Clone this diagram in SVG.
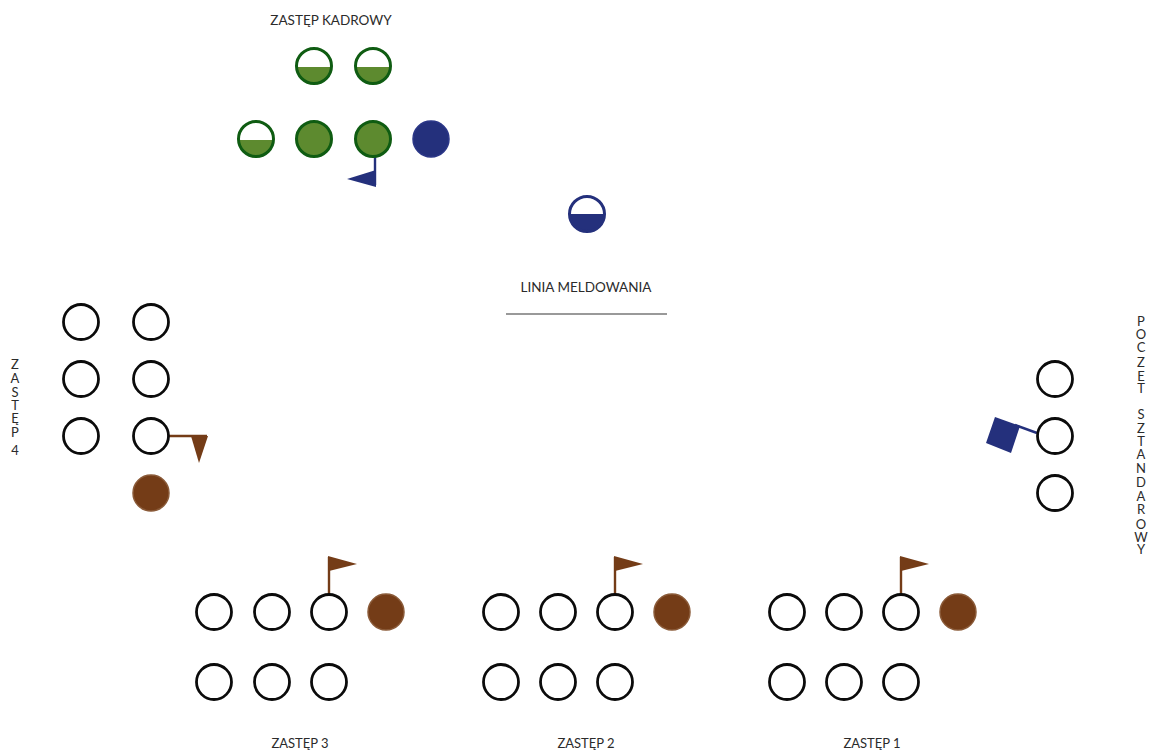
<svg xmlns="http://www.w3.org/2000/svg" width="1149" height="751" viewBox="0 0 1149 751">
<style>
text{font-family:Lato,"Noto Sans",sans-serif;font-size:13.5px;fill:#2b2b2b;text-anchor:middle}
.s{font-size:13px}
.w{fill:#fff;stroke:#0b0b0b;stroke-width:2.8}
.b{fill:#743c17;stroke:#8a5a38;stroke-width:1.5}
.g{fill:#5d8a2f;stroke:#0f5c12;stroke-width:3}
.n{fill:#24307c;stroke:#2b3788;stroke-width:1.5}
.hg{fill:#5d8a2f}
.hn{fill:#24307c}
.r0{fill:none;stroke-width:3}
.gs{stroke:#0f5c12}
.ns{stroke:#24307c}
.bl{stroke:#743c17;stroke-width:2.4;fill:none}
.nl{stroke:#24307c;stroke-width:2.4;fill:none}
</style>
<defs>
<circle id="w" class="w" r="17.5"/>
<circle id="bf" class="b" r="18"/>
<g id="hg"><circle r="17.5" fill="#fff"/><path class="hg" d="M-17.5 1H17.5A17.5 17.5 0 0 1-17.5 1Z"/><circle class="r0 gs" r="17.5"/></g>
</defs>
<g id="labels">
<text x="331" y="25">ZASTĘP KADROWY</text>
<text x="586" y="292">LINIA MELDOWANIA</text>
<text class="s" x="300" y="748">ZASTĘP 3</text>
<text class="s" x="586" y="748">ZASTĘP 2</text>
<text class="s" x="872" y="748">ZASTĘP 1</text>
<text class="s" x="15 15 15 15 15 15 15 15" y="369 383 397 410 423 437 441 455">ZASTĘP 4</text>
<text class="s" x="1141 1141 1141 1141 1141 1141 1141 1141 1141 1141 1141 1141 1141 1141 1141 1141 1141 1141" y="326 339 352 367 381 393 406 419 433 446 459 473 487 501 514 529 542 554">POCZET SZTANDAROWY</text>
</g>
<g id="connectors">
<line id="reporting-line" x1="506" y1="314" x2="667" y2="314" stroke="#777" stroke-width="1.4"/>
<path class="nl" d="M375 157V185"/>
<path class="hn" d="M376 170V187L347 179Z"/>
<path class="bl" d="M169 436H207"/>
<path fill="#743c17" d="M191 436H208L199 463Z"/>
<path class="nl" d="M1037 433L1015 425"/>
<path class="hn" d="M995 417L1020 426L1011 453L986 443Z"/>
<path class="bl" d="M329 594V557"/>
<path fill="#743c17" d="M328 556L357 564L329 571Z"/>
<path class="bl" d="M615 594V557"/>
<path fill="#743c17" d="M614 556L643 564L615 571Z"/>
<path class="bl" d="M901 594V557"/>
<path fill="#743c17" d="M900 556L929 564L901 571Z"/>
</g>
<g id="kadrowy">
<use id="k1" href="#hg" x="314" y="66"/>
<use id="k2" href="#hg" x="373" y="66"/>
<use id="k3" href="#hg" x="256" y="139"/>
<circle id="k4" class="g" cx="314" cy="139" r="17.5"/>
<circle id="k5" class="g" cx="373" cy="139" r="17.5"/>
<circle id="k6" class="n" cx="431" cy="139" r="18"/>
</g>
<g id="commander"><circle cx="587" cy="214" r="17.5" fill="#fff"/><path class="hn" d="M569.5 214H604.5A17.5 17.5 0 0 1 569.5 214Z"/><circle class="r0 ns" cx="587" cy="214" r="17.5"/></g>
<g id="zastep4">
<use href="#w" x="81" y="322"/><use href="#w" x="151" y="322"/>
<use href="#w" x="81" y="379"/><use href="#w" x="151" y="379"/>
<use href="#w" x="81" y="436"/><use href="#w" x="151" y="436"/>
<use href="#bf" x="151" y="493"/>
</g>
<g id="poczet">
<use href="#w" x="1055" y="379"/><use href="#w" x="1055" y="436"/><use href="#w" x="1055" y="493"/>
</g>
<g id="zastep3">
<use href="#w" x="214" y="612"/><use href="#w" x="272" y="612"/><use href="#w" x="329" y="612"/><use href="#bf" x="386" y="612"/>
<use href="#w" x="214" y="682"/><use href="#w" x="272" y="682"/><use href="#w" x="329" y="682"/>
</g>
<g id="zastep2">
<use href="#w" x="501" y="612"/><use href="#w" x="558" y="612"/><use href="#w" x="615" y="612"/><use href="#bf" x="672" y="612"/>
<use href="#w" x="501" y="682"/><use href="#w" x="558" y="682"/><use href="#w" x="615" y="682"/>
</g>
<g id="zastep1">
<use href="#w" x="787" y="612"/><use href="#w" x="844" y="612"/><use href="#w" x="901" y="612"/><use href="#bf" x="958" y="612"/>
<use href="#w" x="787" y="682"/><use href="#w" x="844" y="682"/><use href="#w" x="901" y="682"/>
</g>
</svg>
